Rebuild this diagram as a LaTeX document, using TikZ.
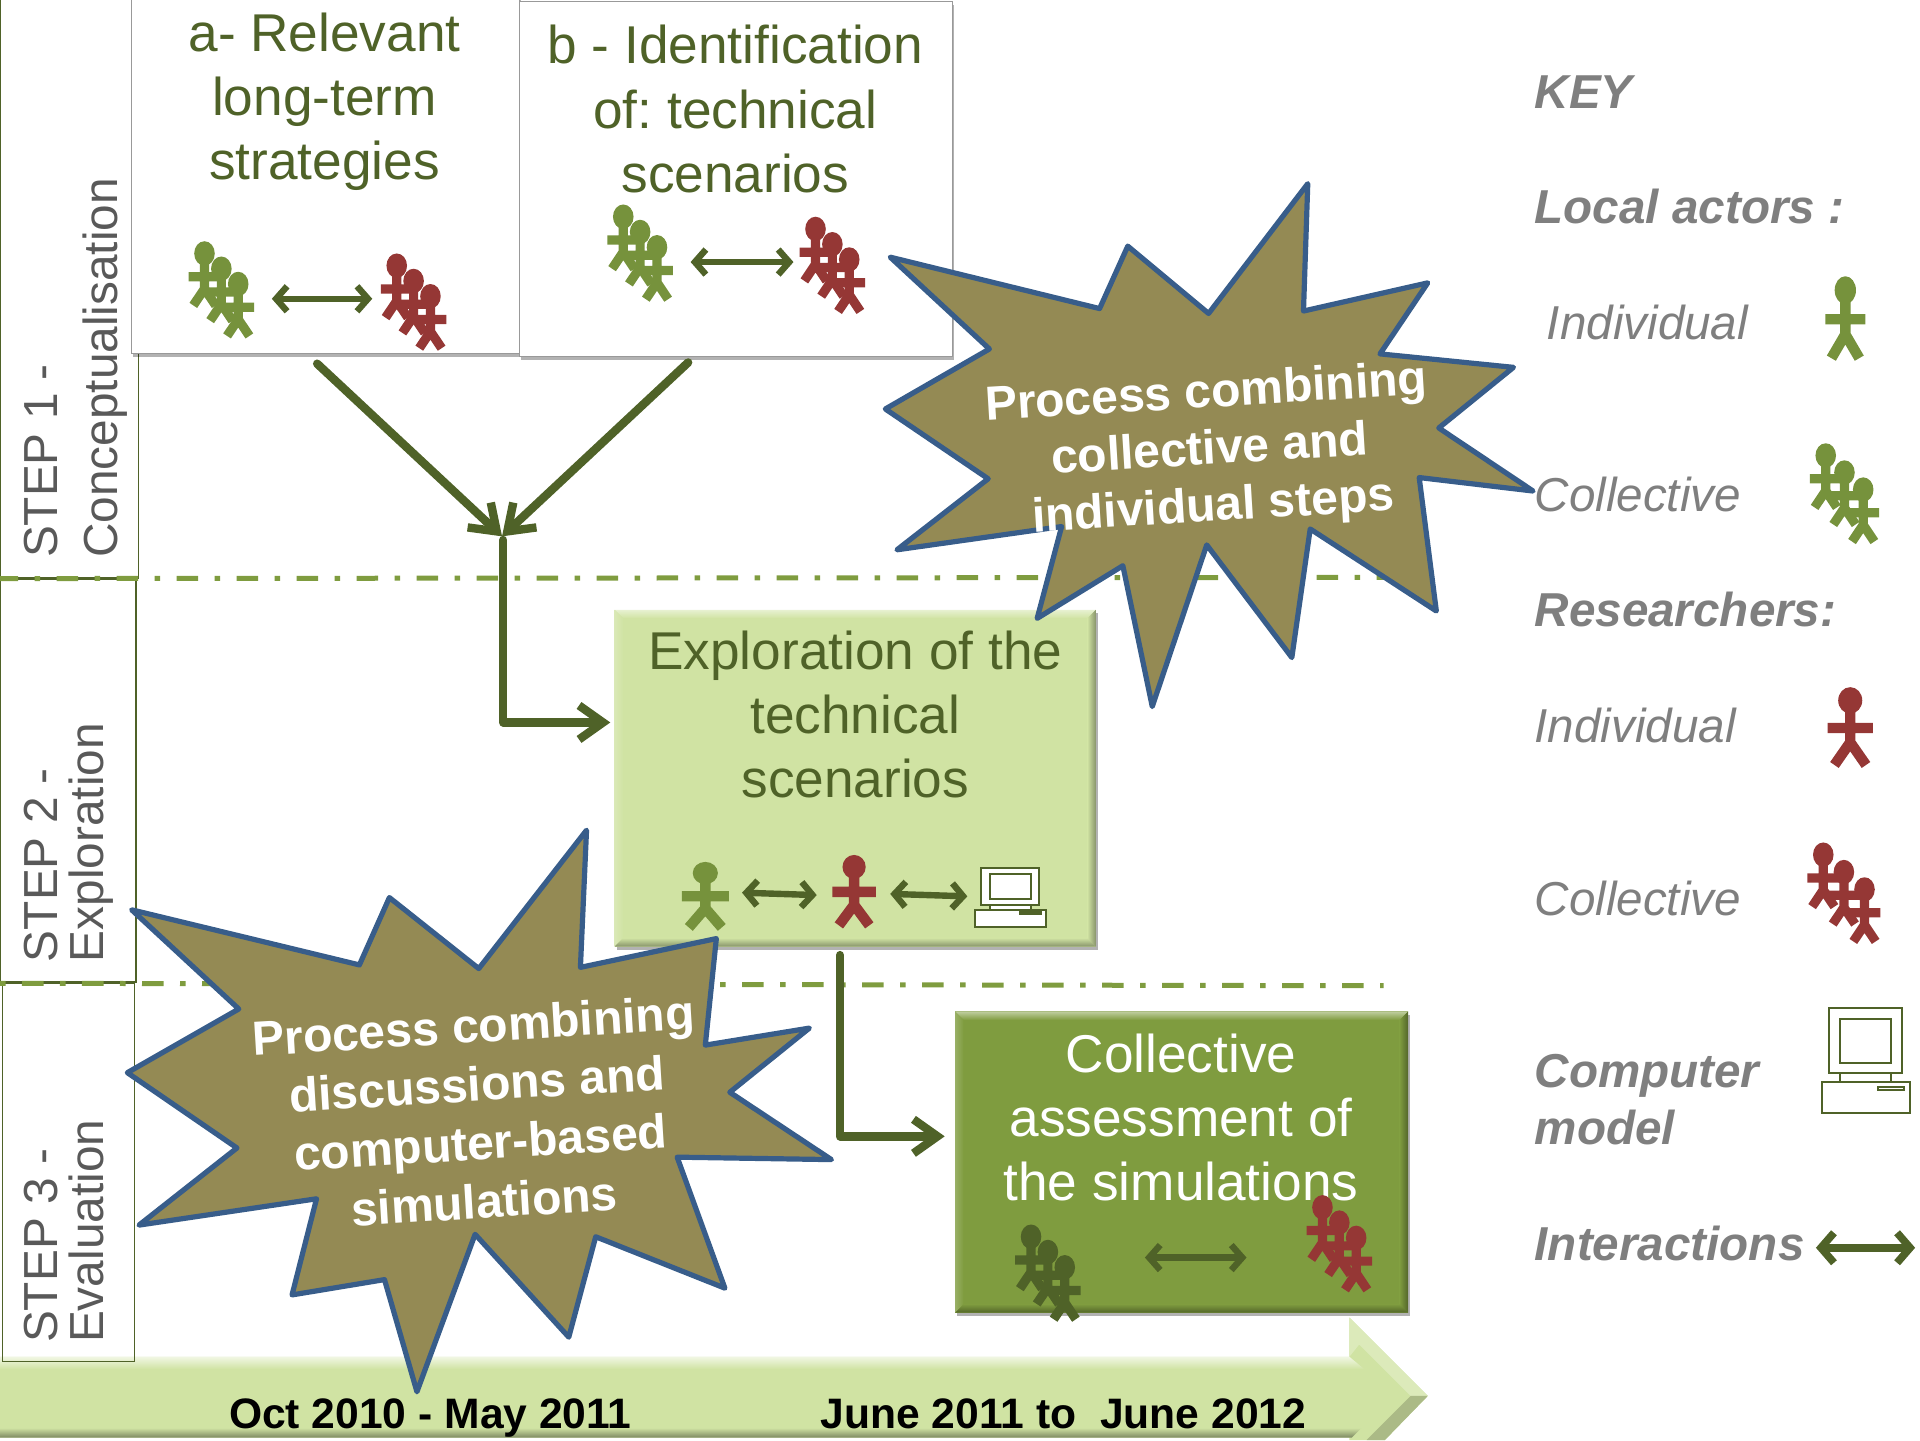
\documentclass[tikz,border=0pt]{standalone}
\usepackage{fontspec}
\setmainfont{Liberation Sans}
\usetikzlibrary{arrows.meta,fit,shadows}
\definecolor{darkgreen}{HTML}{4F6228}
\definecolor{midgreen}{HTML}{7F9C3F}
\definecolor{paleleaf}{HTML}{D0E3A3}
\definecolor{actgreen}{HTML}{76923C}
\definecolor{actred}{HTML}{953735}
\definecolor{olive}{HTML}{948A54}
\definecolor{starblue}{HTML}{385D8A}
\definecolor{keygray}{HTML}{7F7F7F}
\definecolor{stepgray}{HTML}{595959}
\newcommand{\bevelsides}[6]{%
  \shade[top color=#5!50!white,bottom color=#5] (#1,#2) -- (#3,#2) -- (#3-#6,#2+#6) -- (#1+#6,#2+#6) -- cycle;
  \shade[left color=#5!80!white,right color=#5] (#1,#2) -- (#1+#6,#2+#6) -- (#1+#6,#4-#6) -- (#1,#4) -- cycle;
  \shade[top color=#5,bottom color=#5!65!black] (#1,#4) -- (#3,#4) -- (#3-#6,#4-#6) -- (#1+#6,#4-#6) -- cycle;
  \shade[left color=#5,right color=#5!65!black] (#3,#2) -- (#3,#4) -- (#3-#6,#4-#6) -- (#3-#6,#2+#6) -- cycle;
}
\tikzset{
  actor/.pic={
    \fill (0,0) ellipse [x radius=8.7,y radius=11.4];
    \draw[line width=5.2pt] (0,8) -- (0,36) (-16.3,23.7) -- (16.3,23.7) (-11.4,55.5) -- (0,36) -- (11.4,55.5);
  },
  member/.pic={
    \fill (0,0) ellipse [x radius=10.5,y radius=12.5];
    \draw[line width=4.6pt] (0,8) -- (0,36) (-16.3,23.7) -- (16.3,23.7) (-11.4,53) -- (0,36) -- (11.4,53);
  },
  crowd/.pic={
    \pic[scale=.8] at (0,0) {member};
    \pic[scale=.8] at (15.3,14.5) {member};
    \pic[scale=.8] at (30.6,29) {member};
  },
  computer/.pic={
    \draw[fill=white,line width=1pt] (-6.4,60.5) rectangle (66,85.5);
    \draw[fill=white,line width=1pt] (9,53) rectangle (50.6,60.5);
    \draw[fill=white,line width=1pt] (0,0) rectangle (59,53);
    \draw[line width=1pt] (9,9) rectangle (50.6,44.5);
    \draw[line width=1pt] (39.7,64.2) rectangle (60.7,67);
  },
  comp/.style={darkgreen},
  whitebox/.style={fill=white,draw=gray!80,line width=.5pt,inner sep=0pt,
    drop shadow={shadow xshift=.8pt,shadow yshift=-1.8pt,opacity=.3,fill=black}},
  levelbox/.style={inner sep=0pt,
    drop shadow={shadow xshift=1pt,shadow yshift=-1.8pt,opacity=.3,fill=black}},
  stepframe/.style={draw=darkgreen,line width=.6pt,inner sep=0pt},
  steptext/.style={rotate=90,anchor=north west,inner sep=0pt,align=left,text=stepgray},
  boxtext/.style={inner sep=0pt,align=center,text=darkgreen,
    font=\fontsize{26.6}{32}\selectfont},
  starshape/.style={fill=olive,draw=starblue,line width=2.6pt,line join=round},
  startext/.style={inner sep=0pt,align=center,text=white,rotate=3.5,
    font=\fontsize{24}{28.5}\selectfont\bfseries},
  keytext/.style={anchor=west,inner sep=0pt,text=keygray,align=left,
    font=\fontsize{23.8}{28.5}\selectfont\itshape},
  keybold/.style={keytext,font=\fontsize{23.8}{28.5}\selectfont\itshape\bfseries},
  datetext/.style={anchor=base,inner sep=0pt,text=black,font=\fontsize{21.3}{26}\selectfont\bfseries},
  phase/.style={midgreen,line width=2.5pt,dash pattern=on 10.8pt off 8.2pt on 2.8pt off 8.2pt},
  flow/.style={darkgreen,line width=4.2pt,line cap=round,line join=round,-{Straight Barb[length=12pt,width=17pt,line width=4.2pt]}},
  inter/.style={darkgreen,line width=3.2pt,line cap=round,{Straight Barb[length=5.5pt,width=12.5pt]}-{Straight Barb[length=5.5pt,width=12.5pt]}},
  interkey/.style={darkgreen,line width=3.8pt,line cap=round,{Straight Barb[length=6.5pt,width=15pt]}-{Straight Barb[length=6.5pt,width=15pt]}}
}
\begin{document}
\frenchspacing
\begin{tikzpicture}[x=0.61224pt,y=-0.61224pt]
\useasboundingbox (0,0) rectangle (1568,1176);

% timeline band
\fill[paleleaf] (0,1108) -- (1102,1108) -- (1102,1076) -- (1166,1140) -- (1131,1176) -- (1102,1176) -- (1102,1174) -- (0,1174) -- cycle;
\shade[top color=paleleaf!30!white,bottom color=paleleaf] (0,1108) -- (1102,1108) -- (1114,1118) -- (0,1118) -- cycle;
\fill[paleleaf!75!white] (1102,1076) -- (1166,1140) -- (1152,1140) -- (1110,1098) -- (1102,1108) -- cycle;
\fill[paleleaf!82!black] (1166,1140) -- (1131,1176) -- (1116,1176) -- (1152,1140) -- cycle;
\shade[top color=paleleaf,bottom color=paleleaf!60!black] (0,1166) -- (1112,1166) -- (1104,1174) -- (0,1174) -- cycle;
\node[datetext] (dateA) at (351.5,1166.5) {Oct 2010 - May 2011};
\node[datetext] (dateB) at (868.5,1166.5) {June 2011 to~ June 2012};

% step frames
\node[stepframe,fit={(0,-3)(113,472)}] (stepA) {};
\node[stepframe,fit={(0,473)(111,802)}] (stepB) {};
\node[stepframe,fit={(2,803)(110,1112)}] (stepC) {};
\node[steptext,font=\fontsize{23.9}{30}\selectfont] (stepAtext) at (19,456) {STEP 1 -\\Conceptualisation};
\node[steptext,font=\fontsize{23.9}{23}\selectfont] (stepBtext) at (19,786) {STEP 2 -\\Exploration};
\node[steptext,font=\fontsize{23.9}{23}\selectfont] (stepCtext) at (19,1097) {STEP 3 -\\Evaluation};

% phase separators
\coordinate (phaseAa) at (0,472.5);
\coordinate (phaseAb) at (1130,471.5);
\coordinate (phaseBa) at (0,803);
\coordinate (phaseBb) at (1130,805);
\draw[phase,dash phase=1.7pt] (phaseAa) -- (phaseAb);
\draw[phase,dash phase=19pt] (phaseBa) -- (phaseBb);

% upper boxes
\node[whitebox,fit={(107,-3)(424,289)}] (boxA) {};
\node[whitebox,fit={(424,1)(778,291)}] (boxB) {};
\node[boxtext] (textA) at (265,83) {a- Relevant\\long-term\\strategies};
\node[boxtext] (textB) at (600.5,89) {b - Identification\\of: technical\\scenarios};
\pic[color=actgreen,xscale=.9,yscale=.86] at (167,207) {crowd};
\pic[color=actred,xscale=.9,yscale=.86] at (324,217) {crowd};
\pic[color=actgreen,xscale=.9,yscale=.86] at (509,177) {crowd};
\pic[color=actred,xscale=.9,yscale=.86] at (666,187) {crowd};
\coordinate (aL) at (222,244); \coordinate (aR) at (304,244);
\coordinate (bL) at (564,214); \coordinate (bR) at (648,214);
\draw[inter] (aL) -- (aR);
\draw[inter] (bL) -- (bR);

% exploration box
\node[levelbox,fill=paleleaf,fit={(502,498)(895,773)}] (boxC) {};
\bevelsides{502}{498}{895}{773}{paleleaf}{7}
\node[boxtext] (textC) at (698.5,583.5) {Exploration of the\\technical\\scenarios};
\pic[color=actgreen,xscale=1.18,yscale=.8] at (576,713) {actor};
\pic[color=actred,xscale=1.09,yscale=.86] at (697.5,708) {actor};
\pic[comp,xscale=.8,yscale=.56] at (801.5,709) {computer};
\coordinate (cLa) at (606,729); \coordinate (cLb) at (667,731);
\coordinate (cRa) at (727,730); \coordinate (cRb) at (790,732);
\draw[inter] (cLa) -- (cLb);
\draw[inter] (cRa) -- (cRb);

% assessment box
\node[levelbox,fill=midgreen,fit={(780,826)(1150,1072)}] (boxD) {};
\bevelsides{780}{826}{1150}{1072}{midgreen}{7}
\node[boxtext,text=white] (textD) at (964.5,913) {Collective\\assessment of\\the simulations};
\pic[color=darkgreen,xscale=.9,yscale=.86] at (842,1010) {crowd};
\pic[color=actred,xscale=.9,yscale=.86] at (1080,986) {crowd};
\coordinate (dL) at (935,1027); \coordinate (dR) at (1018,1027);
\draw[inter] (dL) -- (dR);

% main flow
\coordinate (outA) at (259,297);
\coordinate (outB) at (562,296);
\coordinate (merge) at (410,438);
\coordinate (mergeOut) at (411,441);
\coordinate (elbowA) at (411,590);
\coordinate (outC) at (686,780);
\coordinate (elbowB) at (686,928);
\draw[flow] (outA) -- (merge);
\draw[flow] (outB) -- (merge);
\draw[flow,shorten >=2pt] (mergeOut) -- (elbowA) -- (boxC.west |- elbowA);
\draw[flow,shorten >=5pt] (outC) -- (elbowB) -- (boxD.west |- elbowB);

% stars
\draw[starshape] (727,210) -- (898,252) -- (921,201) -- (987,256) -- (1068,150) -- (1064.5,254) -- (1166,231) -- (1127,289) -- (1236,300) -- (1175,349.5) -- (1252,401) -- (1159,390) -- (1173,499) -- (1070,432) -- (1055,537) -- (985.5,445) -- (941,577) -- (917,462) -- (847,505) -- (867,430) -- (732.5,449) -- (807,391) -- (723,334) -- (808,285) -- cycle;
\node[startext] (starAtext) at (988,369) {Process combining\\collective and\\individual steps};
\draw[starshape] (107.5,743) -- (293.5,788) -- (318,733) -- (391,791) -- (479,678) -- (474,790) -- (585,766.5) -- (576,853.5) -- (661,839.6) -- (596,892) -- (679,947) -- (553,945) -- (592,1052) -- (486.5,1010) -- (464.5,1092) -- (388,1008) -- (340.5,1136.6) -- (314,1045) -- (238.5,1057.5) -- (258.5,979) -- (113.5,1000.5) -- (193.5,937.5) -- (104,876) -- (195,824) -- cycle;
\node[startext,font=\fontsize{24}{29.3}\selectfont\bfseries] (starBtext) at (391,909) {Process combining\\discussions and\\computer-based\\simulations};

% key
\node[keybold] (keyTitle) at (1253,75) {KEY};
\node[keybold] (keyLocal) at (1253,169) {Local actors :};
\node[keytext] (keyInd) at (1263,263) {Individual};
\node[keytext] (keyCol) at (1253,404) {Collective};
\node[keybold] (keyRes) at (1253,498) {Researchers:};
\node[keytext] (keyIndR) at (1253,592.5) {Individual};
\node[keytext] (keyColR) at (1253,734) {Collective};
\node[keybold] (keyComp) at (1253,898) {Computer\\model};
\node[keybold] (keyInt) at (1253,1015.5) {Interactions};
\pic[color=actgreen] at (1507,237) {actor};
\pic[color=actgreen,yscale=.96] at (1491,372) {crowd};
\pic[color=actred,xscale=1.13,yscale=.95] at (1511,572) {actor};
\pic[color=actred,xscale=1.1,yscale=.98] at (1489,698) {crowd};
\pic[comp] at (1494,823.5) {computer};
\coordinate (kL) at (1483,1019); \coordinate (kR) at (1564,1019);
\draw[interkey] (kL) -- (kR);
\end{tikzpicture}
\end{document}
